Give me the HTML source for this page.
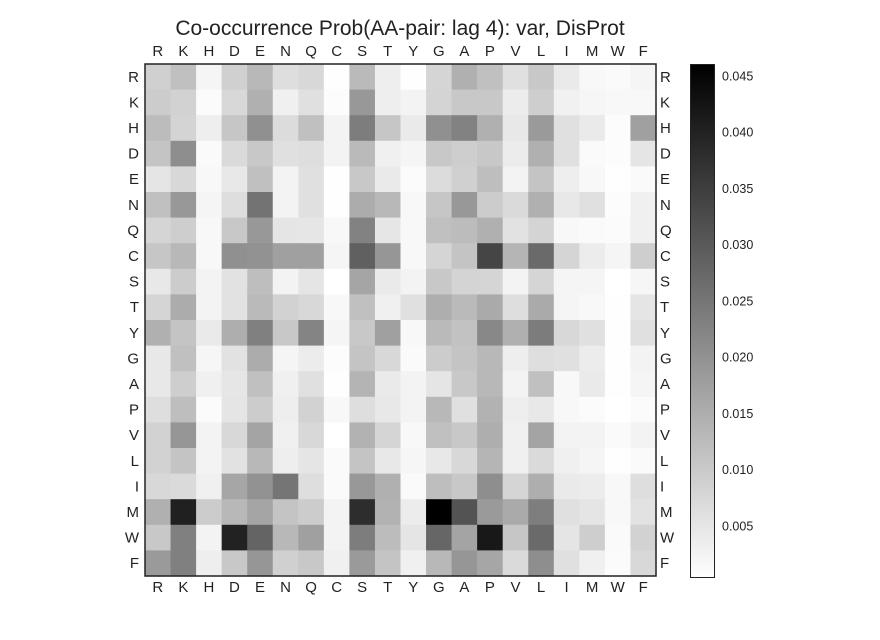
<!DOCTYPE html>
<html><head><meta charset="utf-8"><style>
html,body{margin:0;padding:0;background:#fff;width:880px;height:640px;overflow:hidden}
svg text{font-family:"Liberation Sans",Arial,sans-serif;fill:#222}
</style></head><body>
<svg id="chart" width="880" height="640" xmlns="http://www.w3.org/2000/svg">
<text x="400" y="35" font-size="21" text-anchor="middle">Co-occurrence Prob(AA-pair: lag 4): var, DisProt</text>
<g id="cells"></g>
<g id="labels"></g>
<defs><linearGradient id="cbg" x1="0" y1="1" x2="0" y2="0"><stop offset="0" stop-color="#fff"/><stop offset="1" stop-color="#000"/></linearGradient></defs>
<rect x="690.5" y="64.5" width="24" height="513" fill="url(#cbg)" stroke="#222" stroke-width="1"/>
<g id="cbticks"></g>
<rect x="145" y="64" width="511" height="512" fill="none" stroke="#222" stroke-width="1.5"/>
</svg>
<script>
const aminoAcids = ["R","K","H","D","E","N","Q","C","S","T","Y","G","A","P","V","L","I","M","W","F"];
const cbTickValues = [0.005,0.010,0.015,0.020,0.025,0.030,0.035,0.040,0.045];
const cbTickLabels = ["0.005","0.010","0.015","0.020","0.025","0.030","0.035","0.040","0.045"];
const vmin = 0.0004, vmax = 0.046;
// values in thousandths (x 0.001)
const rowR=[8.8,11.7,2.2,8.8,13.1,6.3,7.4,0.6,12.8,3.4,0.6,8.0,14.5,11.7,6.0,10.2,4.1,1.7,1.3,2.2];
const rowK=[9.5,8.4,1.1,7.4,14.5,3.1,6.0,1.0,18.8,3.4,2.6,8.1,10.2,10.2,3.8,9.1,2.9,2.0,1.7,1.7];
const rowH=[12.4,8.1,3.4,10.6,20.3,6.6,11.7,2.6,23.6,10.6,4.1,20.3,22.8,14.5,4.5,18.4,6.0,4.1,1.0,17.4];
const rowD=[11.0,20.6,1.3,7.0,10.2,6.0,6.3,2.6,12.8,3.1,2.2,10.2,9.1,10.2,3.8,14.5,6.0,1.3,1.0,5.1];
const rowE=[5.1,7.4,1.7,4.5,11.7,2.6,6.0,0.6,10.2,4.1,1.1,6.6,8.8,12.0,2.6,11.0,3.4,1.7,0.6,1.3];
const rowN=[11.7,18.8,2.2,6.3,25.4,2.6,6.0,0.6,15.2,13.1,1.7,10.6,18.8,9.5,7.0,14.5,4.5,6.0,1.0,3.1];
const rowQ=[8.0,9.1,1.7,10.2,18.8,5.1,4.9,1.7,22.8,4.9,1.7,11.7,12.4,14.5,5.6,8.1,1.7,1.3,1.1,3.1];
const rowC=[10.6,13.1,1.7,20.3,19.9,17.4,17.4,2.2,28.8,19.2,1.7,8.0,11.0,33.7,13.6,27.0,8.0,3.8,2.2,9.1];
const rowS=[4.5,9.5,2.6,5.6,12.0,2.6,5.1,0.4,16.5,4.1,2.6,10.2,8.1,8.0,2.6,8.0,2.2,2.2,0.4,2.0];
const rowT=[8.0,15.2,2.6,5.6,12.8,8.4,7.4,1.7,11.7,3.1,6.0,14.8,12.8,15.6,6.3,15.6,2.2,1.7,0.6,5.1];
const rowY=[14.5,11.0,4.1,14.8,23.1,10.2,22.4,2.2,10.2,17.4,1.7,12.8,11.3,21.7,14.5,23.8,7.4,6.0,0.6,6.0];
const rowG=[4.5,11.7,2.0,5.6,15.2,2.2,3.8,1.0,11.0,7.4,1.3,9.5,11.0,13.1,3.4,6.3,6.0,3.8,0.6,2.6];
const rowA=[4.5,9.1,3.1,4.9,11.7,3.1,6.0,0.6,13.8,4.1,2.6,5.1,10.2,13.1,2.6,11.7,1.7,4.1,0.6,2.2];
const rowP=[6.3,12.0,1.1,5.1,9.5,3.4,8.4,1.7,6.3,4.5,2.6,13.1,6.0,14.1,3.4,4.5,1.7,1.1,0.4,1.1];
const rowV=[8.4,19.2,2.6,7.4,16.7,3.1,7.4,0.4,14.1,8.0,1.7,11.7,10.2,14.8,3.1,16.7,2.6,2.6,1.3,2.6];
const rowL=[8.4,11.0,2.6,5.6,13.1,3.4,5.1,1.3,11.0,4.5,2.0,4.5,7.4,13.6,3.1,7.0,3.1,2.2,0.6,1.3];
const rowI=[7.4,7.0,3.1,16.3,19.9,25.0,6.3,1.3,18.8,14.5,1.3,12.0,10.2,20.6,8.0,14.8,4.1,3.8,1.7,6.3];
const rowM=[14.5,40.3,9.5,13.1,16.5,11.0,9.5,2.6,37.9,14.1,3.8,46.0,31.2,18.4,15.6,23.4,6.0,5.1,1.7,5.6];
const rowW=[10.2,23.1,2.6,40.0,28.1,13.1,17.4,2.6,23.6,12.4,5.1,27.8,16.7,41.7,10.6,27.0,5.1,9.1,1.3,8.4];
const rowF=[18.4,23.1,3.4,10.2,19.2,8.8,10.2,3.1,18.4,11.0,3.1,13.1,19.2,16.3,7.0,20.6,6.0,3.1,1.1,7.4];
const matrix=[rowR,rowK,rowH,rowD,rowE,rowN,rowQ,rowC,rowS,rowT,rowY,rowG,rowA,rowP,rowV,rowL,rowI,rowM,rowW,rowF];

const NS="http://www.w3.org/2000/svg";
const X0=145,Y0=64,W=511,H=512;
const cw=W/aminoAcids.length, ch=H/aminoAcids.length;
const xPos=i=>X0+i*cw, yPos=j=>Y0+j*ch;
const cbY=v=>577.5-(v-vmin)/(vmax-vmin)*513;
function color(v){let t=(v*0.001-vmin)/(vmax-vmin);t=Math.max(0,Math.min(1,t));const g=Math.round(255*(1-t));return `rgb(${g},${g},${g})`;}
const cells=document.getElementById('cells');
matrix.forEach((row,j)=>row.forEach((v,i)=>{
  const r=document.createElementNS(NS,'rect');
  
  
  r.setAttribute('x',xPos(i));r.setAttribute('y',yPos(j));
  r.setAttribute('width',cw+0.6);r.setAttribute('height',ch+0.6);
  r.setAttribute('fill',color(v));cells.appendChild(r);
}));
const labels=document.getElementById('labels');
function txt(x,y,s,anchor){const t=document.createElementNS(NS,'text');t.setAttribute('x',x);t.setAttribute('y',y);t.setAttribute('font-size','15');t.setAttribute('text-anchor',anchor);t.textContent=s;labels.appendChild(t);return t;}
aminoAcids.forEach((a,i)=>{
  let t=txt(xPos(i)+cw/2,56,a,'middle');
  
  
  t=txt(xPos(i)+cw/2,592,a,'middle');
  
  
  t=txt(139,yPos(i)+ch/2+5,a,'end');
  
  
  t=txt(660,yPos(i)+ch/2+5,a,'start');
  
  
});
const cbt=document.getElementById('cbticks');
cbTickValues.forEach((v,k)=>{
  const t=document.createElementNS(NS,'text');
  
  
  t.setAttribute('x',722);t.setAttribute('y',cbY(v)+4.5);t.setAttribute('font-size','12.5');
  t.textContent=cbTickLabels[k];cbt.appendChild(t);
});
</script>
</body></html>
